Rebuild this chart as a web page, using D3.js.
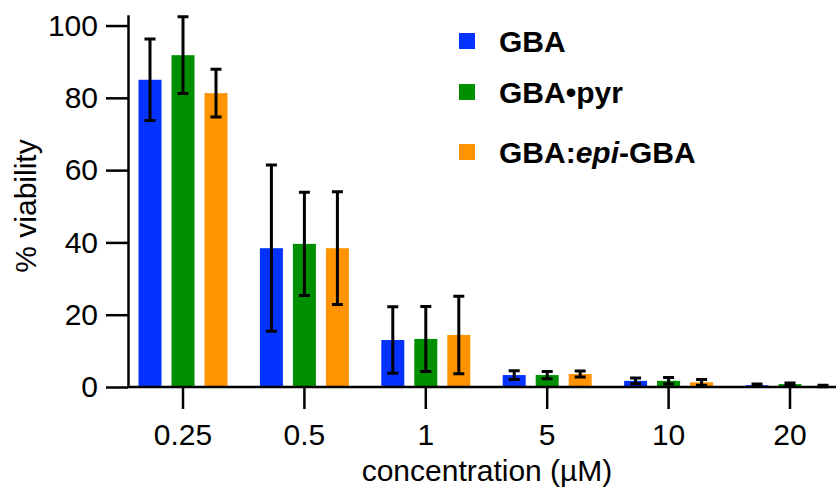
<!DOCTYPE html>
<html>
<head>
<meta charset="utf-8">
<script src="https://cdn.jsdelivr.net/npm/d3@7"></script>
<style>
  body { margin: 0; background: #fff; }
  svg { display: block; font-family: "Liberation Sans", Arial, sans-serif; }
</style>
</head>
<body>
<script>
// concentrations (µM) on the x axis
const concentrations = ["0.25", "0.5", "1", "5", "10", "20"];
const seriesNames = ["GBA", "GBA•pyr", "GBA:epi-GBA"];

// mean % viability per concentration
const gbaMean = [85.0, 38.4, 13.0, 3.3, 1.7, 0.5];
const pyrMean = [91.8, 39.6, 13.3, 3.3, 1.7, 0.8];
const epiMean = [81.3, 38.4, 14.4, 3.6, 1.3, 0.3];

// error (± sd)
const gbaErr = [11.3, 23.0, 9.2, 1.2, 0.8, 0.3];
const pyrErr = [10.6, 14.3, 9.0, 1.0, 0.9, 0.3];
const epiErr = [6.6, 15.6, 10.7, 0.8, 0.8, 0.2];

const yTicks = [0, 20, 40, 60, 80, 100];

const colors = ["#0433FF", "#008F00", "#FF9300"];

const width = 836, height = 488;

const svg = d3.select("body").append("svg")
    .attr("width", width)
    .attr("height", height);

const x = d3.scaleBand()
    .domain(concentrations)
    .range([122.3, 850.7]);

const inner = d3.scaleBand()
    .domain(seriesNames)
    .range([-44.5, 44.5])
    .paddingInner(0.303);

const y = d3.scaleLinear()
    .domain([0, 103])
    .range([387, 14.7]);

const means = [gbaMean, pyrMean, epiMean];
const errs = [gbaErr, pyrErr, epiErr];

// flat table of bars
let rows = [];
seriesNames.forEach((s, si) => {
    concentrations.forEach((c, ci) => {
        rows.push({ series: s, si: si, conc: c, mean: means[si][ci], err: errs[si][ci] });
    });
});

const cx = (d) => x(d.conc) + x.bandwidth() / 2 + inner(d.series) + inner.bandwidth() / 2;

svg.append("g")
    .selectAll("rect")
    .data(rows)
    .join("rect")
    .attr("x", (d) => cx(d) - inner.bandwidth() / 2)
    .attr("width", inner.bandwidth())
    .attr("y", (d) => y(d.mean))
    .attr("height", (d) => y(0) - y(d.mean))
    .attr("fill", (d) => colors[d.si]);

// error bars
const capW = 5.5;
const eb = svg.append("g")
    .attr("stroke", "black")
    .attr("stroke-width", 3)
    .attr("fill", "none");

eb.selectAll("path")
    .data(rows)
    .join("path")
    .attr("d", (d) => {
        const c = cx(d);
        const top = y(d.mean + d.err);
        const bot = y(Math.max(0, d.mean - d.err));
        return `M${c},${top}V${bot}M${c - capW},${top}H${c + capW}M${c - capW},${bot}H${c + capW}`;
    });

// y axis
const yAxis = svg.append("g")
    .attr("transform", "translate(128,0)")
    .call(d3.axisLeft(y).tickValues(yTicks).tickSize(22).tickSizeOuter(0).tickPadding(8));

yAxis.select(".domain").attr("stroke-width", 2.5);
yAxis.selectAll(".tick line").attr("stroke-width", 2.5);
yAxis.selectAll(".tick text")
    .attr("font-size", 30)
    .attr("font-family", "Liberation Sans, Arial, sans-serif")
    .attr("fill", "black");

// x axis
const xAxis = svg.append("g")
    .attr("transform", "translate(0,387)")
    .call(d3.axisBottom(x).tickSize(22).tickSizeOuter(0).tickPadding(14.5));

xAxis.select(".domain").remove();
xAxis.append("line")
    .attr("x1", 127)
    .attr("x2", width)
    .attr("stroke", "black")
    .attr("stroke-width", 2.5);
xAxis.selectAll(".tick line").attr("stroke-width", 2.5);
xAxis.selectAll(".tick text")
    .attr("font-size", 30)
    .attr("font-family", "Liberation Sans, Arial, sans-serif")
    .attr("fill", "black");

// axis titles
svg.append("text")
    .attr("transform", "translate(36,206) rotate(-90)")
    .attr("text-anchor", "middle")
    .attr("font-size", 30)
    .text("% viability");

svg.append("text")
    .attr("x", 487)
    .attr("y", 481)
    .attr("text-anchor", "middle")
    .attr("font-size", 30)
    .text("concentration (µM)");

// legend
const legendY = [41, 92, 152];
const legend = svg.append("g");

seriesNames.forEach((s, i) => {
    legend.append("rect")
        .attr("x", 459)
        .attr("y", legendY[i] - 8)
        .attr("width", 16)
        .attr("height", 16)
        .attr("fill", colors[i]);

    let t = legend.append("text")
        .attr("x", 499)
        .attr("y", legendY[i] + 11)
        .attr("font-size", 30)
        .attr("font-weight", "bold");

    if (s === "GBA:epi-GBA") {
        t.append("tspan").text("GBA:");
        t.append("tspan").attr("font-style", "italic").text("epi");
        t.append("tspan").text("-GBA");
    } else {
        t.text(s);
    }
});
</script>
</body>
</html>
